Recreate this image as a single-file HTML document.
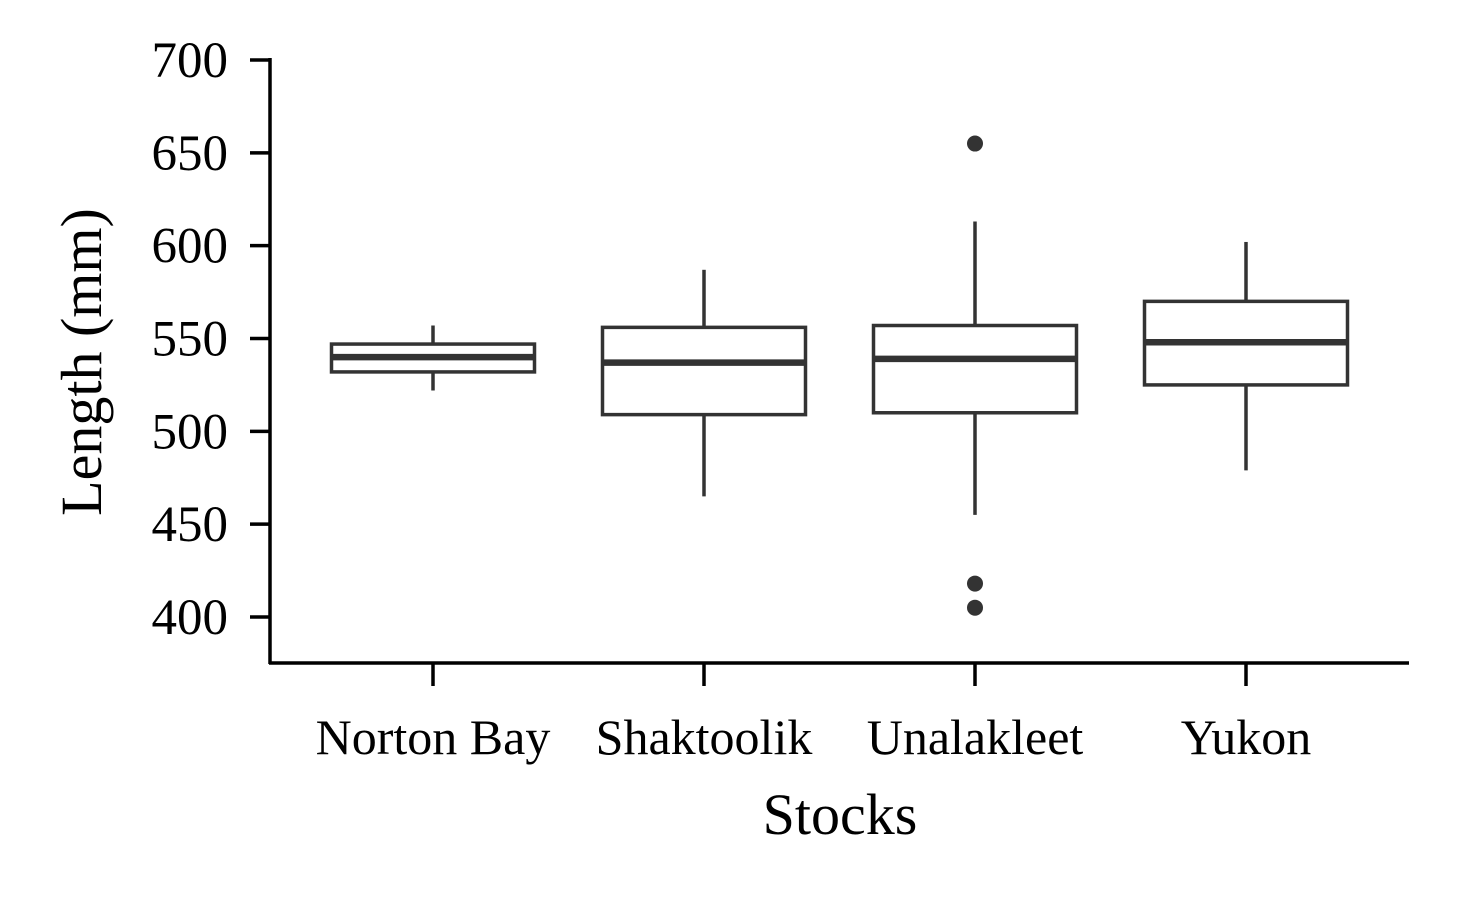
<!DOCTYPE html>
<html><head><meta charset="utf-8"><style>
html,body{margin:0;padding:0;background:#fff;}
svg{display:block;font-family:"Liberation Serif",serif;}
</style></head><body>
<svg id="chart" width="1468" height="906" viewBox="0 0 1468 906"></svg>
<script>
const categories=["Norton Bay","Shaktoolik","Unalakleet","Yukon"];
const whiskerLow=[522,465,455,479];
const q1=[532,509,510,525];
const medians=[540,537,539,548];
const q3=[547,556,557,570];
const whiskerHigh=[557,587,613,602];
const outliers=[[],[],[655,418,405],[]];
const yTicks=[400,450,500,550,600,650,700];

const ns="http://www.w3.org/2000/svg";
const svg=document.getElementById('chart');
const y=v=>617-(v-400)*(557/300);
const xCenters=[433,705,975,1246];
const x=i=>xCenters[0]+i*(xCenters[3]-xCenters[0])/3;
const bw=203, col="#333";
function el(t,a,p){const e=document.createElementNS(ns,t);for(const k in a)e.setAttribute(k,a[k]);(p||svg).appendChild(e);return e;}

const ax=el('g',{});


el('line',{x1:270,y1:58,x2:270,y2:664,stroke:"#000","stroke-width":3.5},ax);
el('line',{x1:269,y1:663,x2:1409,y2:663,stroke:"#000","stroke-width":3.5},ax);
yTicks.forEach(v=>{
  el('line',{x1:250,y1:y(v),x2:270,y2:y(v),stroke:"#000","stroke-width":3.5},ax);
  const t=el('text',{x:228,y:y(v)+17,"text-anchor":"end","font-size":51,fill:"#000"},ax);
  
  
  t.textContent=v;
});
categories.forEach((c,i)=>{
  el('line',{x1:x(i),y1:663,x2:x(i),y2:686,stroke:"#000","stroke-width":3.5},ax);
  const t=el('text',{x:x(i),y:754,"text-anchor":"middle","font-size":50,fill:"#000"},ax);
  
  
  t.textContent=c;
});
const yt=el('text',{x:0,y:0,transform:"translate(101,362) rotate(-90)","text-anchor":"middle","font-size":58,fill:"#000"});


yt.textContent="Length (mm)";
const xt=el('text',{x:840,y:834,"text-anchor":"middle","font-size":58,fill:"#000"});


xt.textContent="Stocks";

categories.forEach((c,i)=>{
  const g=el('g',{});
  
  
  const cx=x(i);
  el('line',{x1:cx,y1:y(whiskerHigh[i]),x2:cx,y2:y(q3[i]),stroke:col,"stroke-width":3.5},g);
  el('line',{x1:cx,y1:y(q1[i]),x2:cx,y2:y(whiskerLow[i]),stroke:col,"stroke-width":3.5},g);
  el('rect',{x:cx-bw/2,y:y(q3[i]),width:bw,height:y(q1[i])-y(q3[i]),fill:"#fff",stroke:col,"stroke-width":3.5},g);
  el('line',{x1:cx-bw/2,y1:y(medians[i]),x2:cx+bw/2,y2:y(medians[i]),stroke:col,"stroke-width":6.5},g);
  outliers[i].forEach(o=>{
    const p=el('circle',{cx:cx,cy:y(o),r:8,fill:col},g);
    
    
  });
});
</script>
</body></html>
